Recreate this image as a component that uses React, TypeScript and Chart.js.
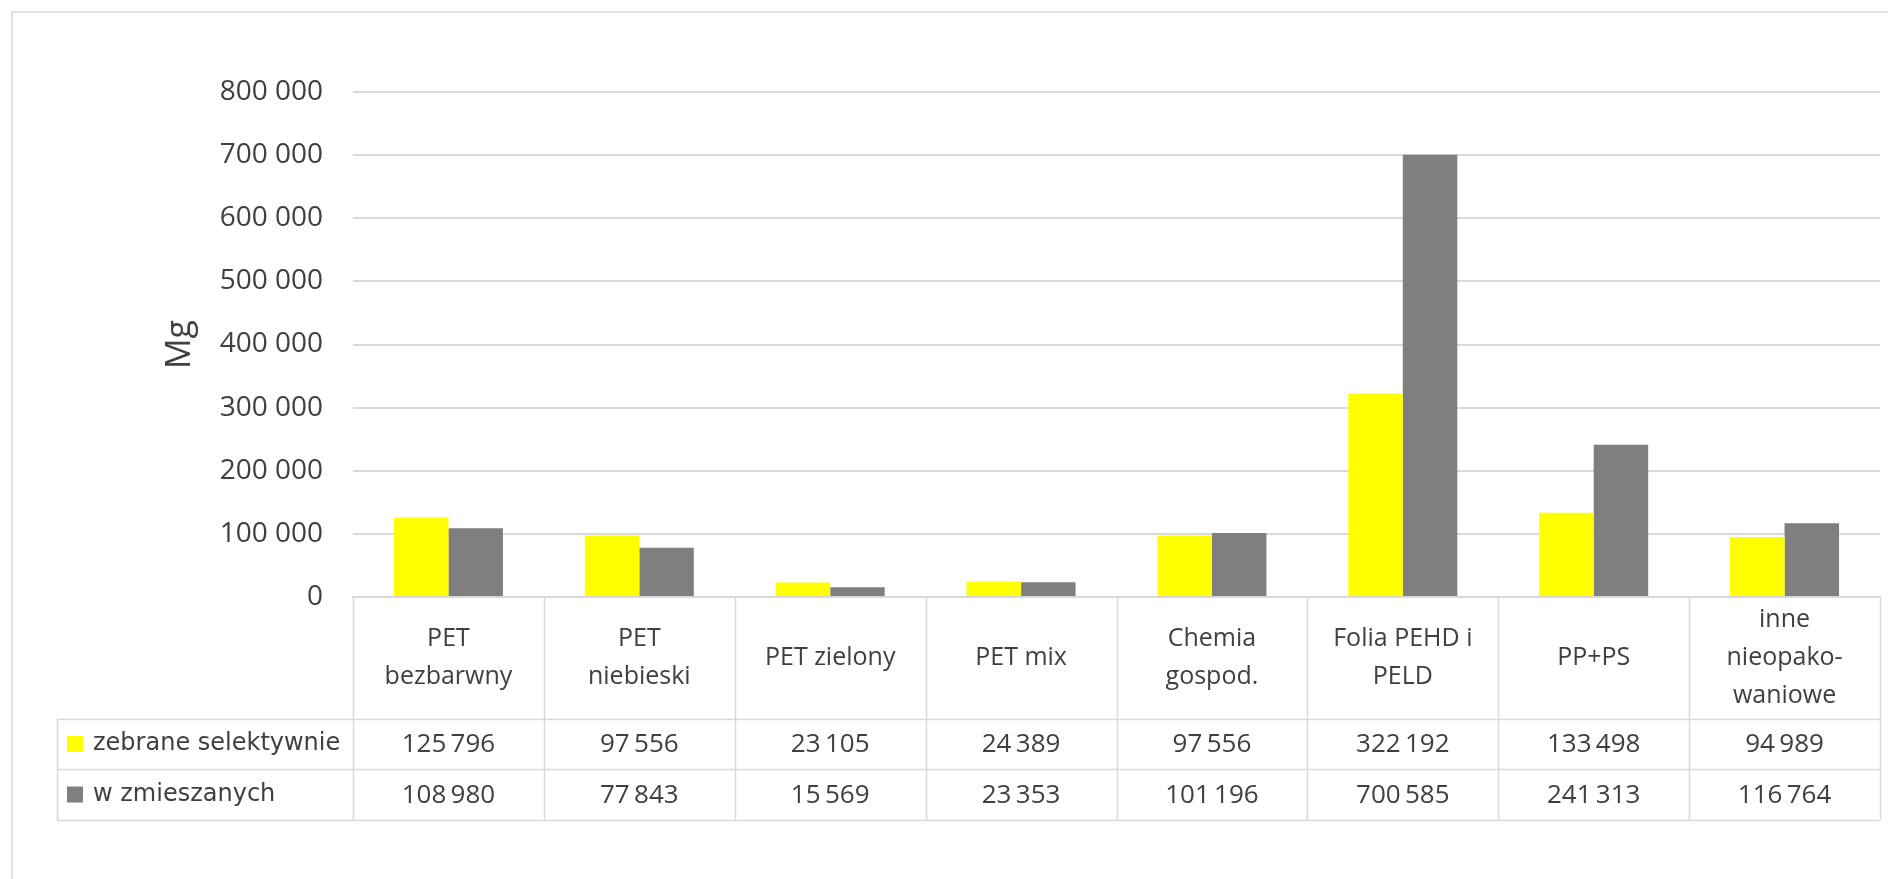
import React, { useEffect, useRef } from 'react';
import { Chart, registerables } from 'chart.js';

Chart.register(...registerables);

// ---- data ----
const categories: string[][] = [
  ['PET', 'bezbarwny'],
  ['PET', 'niebieski'],
  ['PET zielony'],
  ['PET mix'],
  ['Chemia', 'gospod.'],
  ['Folia PEHD i', 'PELD'],
  ['PP+PS'],
  ['inne', 'nieopako-', 'waniowe'],
];
const selectiveValues: number[] = [125796, 97556, 23105, 24389, 97556, 322192, 133498, 94989];
const mixedValues: number[] = [108980, 77843, 15569, 23353, 101196, 700585, 241313, 116764];
const seriesLabels: string[] = ['zebrane selektywnie', 'w zmieszanych'];
const seriesColors: string[] = ['#FFFF00', '#7F7F7F'];
const yAxisTitle = 'Mg';
const yMin = 0;
const yMax = 800000;
const yStep = 100000;

const TEXT = '#404040';
const LINE = '#d9d9d9';

function fmt(v: number): string {
  return Math.round(v).toString().replace(/\B(?=(\d{3})+(?!\d))/g, '\u2009');
}
function fmtTick(v: number): string {
  return Math.round(v).toString().replace(/\B(?=(\d{3})+(?!\d))/g, ' ');
}

const tablePlugin = {
  id: 'dataTable',
  beforeDraw(chart: any) {
    const { ctx } = chart;
    ctx.save();
    ctx.strokeStyle = LINE;
    ctx.lineWidth = 1.5;
    ctx.strokeRect(12, 12, 4000, 4000);
    ctx.restore();
  },
  afterDraw(chart: any) {
    const { ctx, chartArea } = chart;
    const x = chart.scales.x;
    const n = categories.length;
    const cw = (chartArea.right - chartArea.left) / n;
    const top = chartArea.bottom;
    const catBottom = top + 122;
    const row1Bottom = catBottom + 50;
    const row2Bottom = row1Bottom + 51;
    const tableLeft = 57;
    const right = chartArea.right;

    ctx.save();
    ctx.strokeStyle = LINE;
    ctx.lineWidth = 1.5;
    ctx.beginPath();
    for (let i = 0; i <= n; i++) {
      const px = Math.round(x.getPixelForValue(0) - cw / 2 + i * cw) + 0.5;
      ctx.moveTo(px, top);
      ctx.lineTo(px, row2Bottom);
    }
    ctx.moveTo(tableLeft + 0.5, catBottom);
    ctx.lineTo(tableLeft + 0.5, row2Bottom);
    [catBottom, row1Bottom, row2Bottom].forEach((yy) => {
      ctx.moveTo(tableLeft, yy + 0.5);
      ctx.lineTo(right, yy + 0.5);
    });
    ctx.stroke();

    // category labels
    ctx.fillStyle = TEXT;
    ctx.textAlign = 'center';
    ctx.textBaseline = 'middle';
    ctx.font = '25px "Open Sans"';
    const catMid = (top + catBottom) / 2;
    const lh = 38;
    categories.forEach((lines, i) => {
      const cx = x.getPixelForValue(i);
      const start = catMid - ((lines.length - 1) * lh) / 2;
      lines.forEach((t, j) => ctx.fillText(t, cx, start + j * lh));
    });

    // values
    ctx.font = '26px "Open Sans"';
    const rowMids = [(catBottom + row1Bottom) / 2, (row1Bottom + row2Bottom) / 2];
    chart.data.datasets.forEach((ds: any, k: number) => {
      ds.data.forEach((v: number, i: number) => {
        ctx.fillText(fmt(v), x.getPixelForValue(i), rowMids[k] + 1);
      });
    });

    // legend keys
    ctx.textAlign = 'left';
    ctx.font = '24px "DejaVu Sans"';
    chart.data.datasets.forEach((ds: any, k: number) => {
      const my = rowMids[k];
      ctx.fillStyle = ds.backgroundColor;
      ctx.fillRect(67, my - 8, 16, 16);
      ctx.fillStyle = TEXT;
      ctx.fillText(ds.label, 93, my);
    });
    ctx.restore();
  },
};

export default function App() {
  const ref = useRef<HTMLCanvasElement | null>(null);
  useEffect(() => {
    if (!ref.current) return;
    const chart = new Chart(ref.current, {
      type: 'bar',
      data: {
        labels: categories.map((c) => c.join(' ')),
        datasets: [
          { label: seriesLabels[0], data: selectiveValues, backgroundColor: seriesColors[0] },
          { label: seriesLabels[1], data: mixedValues, backgroundColor: seriesColors[1] },
        ],
      },
      options: {
        responsive: false,
        animation: false,
        devicePixelRatio: 1,
        layout: { padding: { top: 92, left: 0, right: 8, bottom: 0 } },
        datasets: { bar: { categoryPercentage: 0.571, barPercentage: 1.0 } },
        plugins: { legend: { display: false }, tooltip: { enabled: false } },
        scales: {
          x: {
            ticks: { display: false },
            grid: { display: false },
            border: { display: true, color: LINE, width: 2 },
            afterFit: (s: any) => {
              s.height = 879 - 597;
            },
          },
          y: {
            min: yMin,
            max: yMax,
            ticks: {
              stepSize: yStep,
              padding: 30,
              color: TEXT,
              font: { family: 'Open Sans', size: 28 },
              callback: (v: any) => fmtTick(Number(v)),
            },
            grid: { color: LINE, lineWidth: 2, drawTicks: false },
            border: { display: false },
            title: {
              display: true,
              text: yAxisTitle,
              color: TEXT,
              font: { family: 'Open Sans', size: 34 },
              padding: { top: 160, bottom: 0 },
            },
            afterFit: (s: any) => {
              s.width = 353;
            },
          },
        },
      } as any,
      plugins: [tablePlugin],
    });
    return () => chart.destroy();
  }, []);
  return (
    <div style={{ position: 'absolute', left: 0, top: 0, width: 1888, height: 879, background: '#fff' }}>
      <canvas ref={ref} width={1888} height={879} style={{ display: 'block' }} />
    </div>
  );
}
